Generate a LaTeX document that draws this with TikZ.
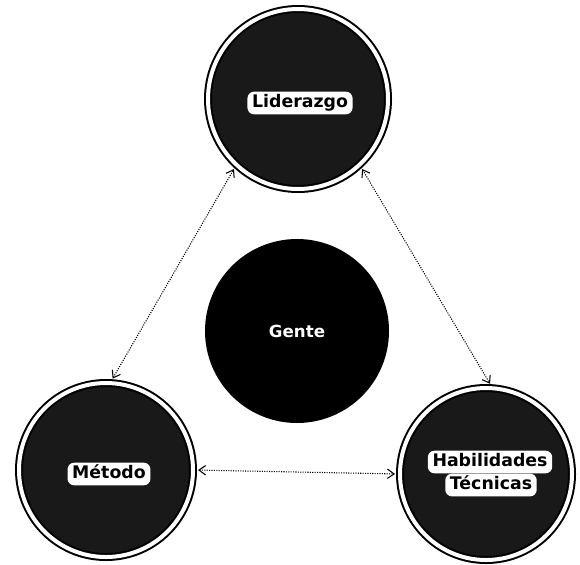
\documentclass[tikz,border=0pt]{standalone}
\usepackage{fontspec}
\usepackage{tikz}
\usetikzlibrary{arrows.meta}
\newfontfamily\tagfont{DejaVu Sans}
\definecolor{globefill}{gray}{0.1}

\begin{document}
\begin{tikzpicture}[x=0.75pt,y=0.75pt,yscale=-1,xscale=1,
  globe/.style={circle, inner sep=0pt, minimum size=#1, fill=globefill, draw=black, line width=1.5pt, double=white, double distance=3pt},
  core/.style={circle, inner sep=0pt, minimum size=#1, fill=black, text=white, font=\fontsize{12.5}{15}\tagfont\bfseries},
  tag/.style={fill=white, rounded corners=5pt, inner xsep=3.5pt, inner ysep=2.5pt, text height=9.5pt, text depth=2.5pt, font=\fontsize{13}{15}\tagfont\bfseries},
  link/.style={densely dotted, line width=0.8pt, {Straight Barb[length=5pt,width=7pt]}-{Straight Barb[length=5pt,width=7pt]}, shorten <=3pt, shorten >=3pt}]
\useasboundingbox (0,0) rectangle (580,564);
%Shape: Circle (top)
\node[globe=135pt] (lider) at (298,99) {};
%Shape: Circle (bottom left)
\node[globe=130.5pt] (metodo) at (106,470) {};
%Shape: Circle (bottom right)
\node[globe=129pt] (habil) at (486,474) {};
%Shape: Circle (centre)
\node[core=138pt] (gente) at (297,331) {Gente};
% Text Node
\node[tag] (lidertag) at (300,103) {Liderazgo};
% Text Node
\node[tag] (metodotag) at (109,474) {Método};
% Text Node
\node[tag] (habiltag) at (490,462) {Habilidades};
% Text Node
\node[tag] (tecntag) at (491,485) {Técnicas};
%Straight Lines
\draw[link] (metodo.87) -- (lider.227);
\draw[link] (lider.313) -- (habil.86);
\draw[link] (metodo.east) -- (habil.west);
\end{tikzpicture}
\end{document}
